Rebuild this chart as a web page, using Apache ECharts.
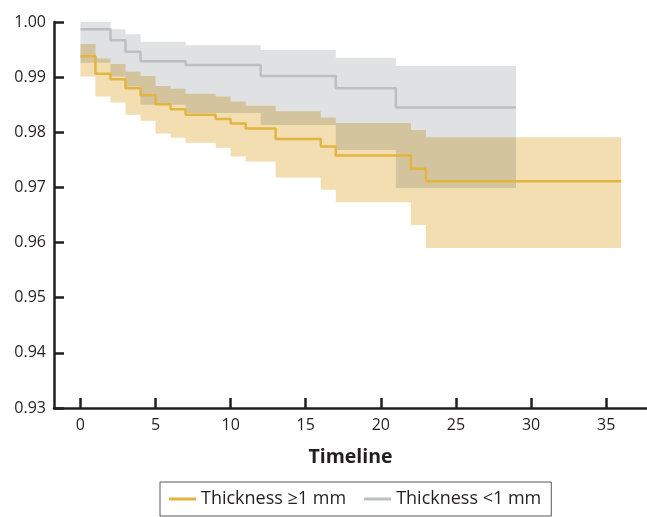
<!DOCTYPE html>
<html>
<head>
<meta charset="utf-8">
<script src="https://cdn.jsdelivr.net/npm/echarts@6/dist/echarts.min.js"></script>
<style>
  html, body { margin: 0; padding: 0; background: #fff; }
  #chart { width: 647px; height: 517px; }
</style>
</head>
<body>
<div id="chart"></div>
<script>
// Kaplan–Meier estimates with 95% confidence bands, by thickness group.
// Each list holds the value in force from that time until the next one;
// the last entry repeats the final value to carry the step to the end of follow-up.

// Thickness ≥1 mm
const thickTimes = [0, 1, 2, 3, 4, 5, 6, 7, 9, 10, 11, 13, 16, 17, 22, 23, 36];
const thickSurv  = [0.9938, 0.9906, 0.9896, 0.9880, 0.9867, 0.9851, 0.9842, 0.9832, 0.9824, 0.9816, 0.9807, 0.9788, 0.9774, 0.9758, 0.9734, 0.9711, 0.9711];
const thickUpper = [0.9960, 0.9934, 0.9924, 0.9910, 0.9902, 0.9884, 0.9879, 0.9870, 0.9865, 0.9856, 0.9848, 0.9838, 0.9827, 0.9817, 0.9804, 0.9791, 0.9791];
const thickLower = [0.9901, 0.9865, 0.9854, 0.9832, 0.9821, 0.9798, 0.9790, 0.9781, 0.9772, 0.9756, 0.9747, 0.9718, 0.9696, 0.9673, 0.9632, 0.9590, 0.9590];

// Thickness <1 mm
const thinTimes = [0, 2, 3, 4, 7, 12, 17, 21, 29];
const thinSurv  = [0.9987, 0.9967, 0.9946, 0.9929, 0.9922, 0.9902, 0.9880, 0.9845, 0.9845];
const thinUpper = [1.0000, 0.9987, 0.9978, 0.9964, 0.9958, 0.9949, 0.9935, 0.9920, 0.9920];
const thinLower = [0.9926, 0.9901, 0.9883, 0.9850, 0.9835, 0.9813, 0.9768, 0.9699, 0.9699];

// Axis ticks
const xTicks = [0, 5, 10, 15, 20, 25, 30, 35];
const yMin = 0.93, yMax = 1.00, yStep = 0.01;

const groupNames = ['Thickness \u22651 mm', 'Thickness <1 mm'];

const INK = '#231f20';
const GOLD_LINE = '#e2b540';
const GOLD_BAND = '#f2deb0';
const GRAY_LINE = '#bdbec0';
const GRAY_BAND = '#e0e1e3';
const FONT = 'Open Sans';

const pairs = (xs, ys) => xs.map((x, i) => [x, ys[i]]);

// Confidence band drawn as one step-shaped polygon: along the upper bound
// left to right, then back along the lower bound.
function band(id, times, lower, upper, color, blend) {
  const s = {
    name: id + '-band',
    type: 'custom',
    silent: true,
    animation: false,
    data: [[times[0], lower[0]]],
    encode: { x: 0, y: 1 },
    renderItem: function (params, api) {
      const pts = [];
      for (let i = 0; i < times.length - 1; i++) {
        pts.push(api.coord([times[i], upper[i]]));
        pts.push(api.coord([times[i + 1], upper[i]]));
      }
      for (let i = times.length - 2; i >= 0; i--) {
        pts.push(api.coord([times[i + 1], lower[i]]));
        pts.push(api.coord([times[i], lower[i]]));
      }
      return {
        type: 'polygon',
        shape: { points: pts },
        style: { fill: color, stroke: null }
      };
    }
  };
  if (blend) s.blendMode = blend;
  return s;
}

const chart = echarts.init(document.getElementById('chart'), null, { renderer: 'canvas' });

chart.setOption({
  backgroundColor: '#ffffff',
  animation: false,
  textStyle: { fontFamily: FONT, color: INK },
  grid: { left: 54, right: 0, top: 22, bottom: 109, containLabel: false },
  xAxis: {
    type: 'value', min: -1.76, max: 37.72,
    name: 'Timeline', nameLocation: 'middle', nameGap: 39,
    nameTextStyle: { fontFamily: FONT, fontWeight: 'bold', fontSize: 19.5, color: INK },
    axisLine: { show: true, onZero: false, lineStyle: { color: INK, width: 2.5 } },
    axisTick: { show: true, inside: true, length: 10, customValues: xTicks, lineStyle: { color: INK, width: 2.5 } },
    axisLabel: { customValues: xTicks, margin: 9, fontSize: 16, color: INK, fontFamily: FONT },
    splitLine: { show: false }
  },
  yAxis: {
    type: 'value', min: yMin, max: yMax, interval: yStep,
    axisLine: { show: true, onZero: false, lineStyle: { color: INK, width: 2.5 } },
    axisTick: { show: true, inside: true, length: 10, lineStyle: { color: INK, width: 2.5 } },
    axisLabel: { margin: 8, fontSize: 16, color: INK, fontFamily: FONT, formatter: v => v.toFixed(2) },
    splitLine: { show: false }
  },
  legend: {
    data: groupNames,
    left: 160, top: 482,
    padding: [8, 10, 8, 9],
    itemGap: 18,
    itemWidth: 27, itemHeight: 3,
    icon: 'rect',
    borderColor: '#58595b', borderWidth: 1,
    textStyle: { fontFamily: FONT, fontSize: 18, color: INK },
    selectedMode: false
  },
  series: [
    band('thin', thinTimes, thinLower, thinUpper, GRAY_BAND, null),
    band('thick', thickTimes, thickLower, thickUpper, GOLD_BAND, 'multiply'),
    {
      name: groupNames[1], type: 'line', step: 'end', symbol: 'none',
      data: pairs(thinTimes, thinSurv),
      color: GRAY_LINE,
      lineStyle: { color: GRAY_LINE, width: 2.5 },
      itemStyle: { color: GRAY_LINE }
    },
    {
      name: groupNames[0], type: 'line', step: 'end', symbol: 'none',
      data: pairs(thickTimes, thickSurv),
      color: GOLD_LINE,
      lineStyle: { color: GOLD_LINE, width: 2.5 },
      itemStyle: { color: GOLD_LINE }
    }
  ]
});
</script>
</body>
</html>
